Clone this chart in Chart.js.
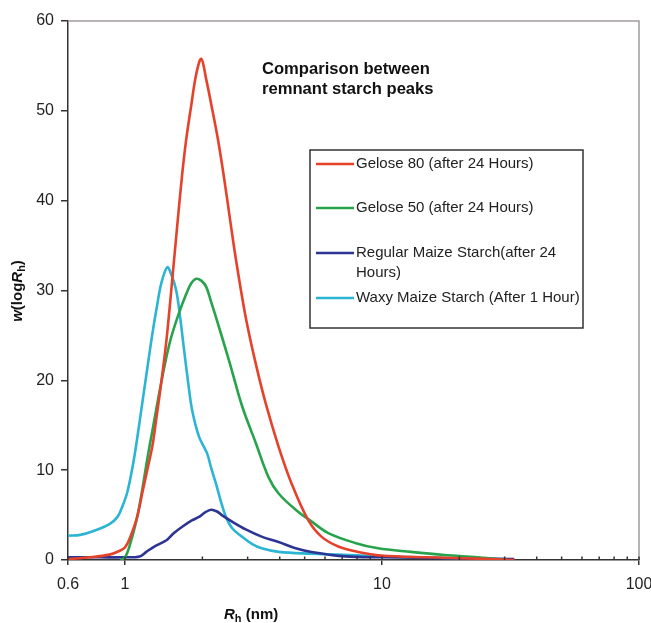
<!DOCTYPE html>
<html>
<head>
<meta charset="utf-8">
<script src="https://cdn.jsdelivr.net/npm/chart.js@4.4.1/dist/chart.umd.min.js"></script>
<style>
html,body{margin:0;padding:0;background:#fff;}
#wrap{width:651px;height:623px;}
</style>
</head>
<body>
<div id="wrap"><canvas id="c" width="651" height="623"></canvas></div>
<script>
// ---------- data ----------
const seriesLabels = [
  ['Gelose 80 (after 24 Hours)'],
  ['Gelose 50 (after 24 Hours)'],
  ['Regular Maize Starch(after 24', 'Hours)'],
  ['Waxy Maize Starch (After 1 Hour)']
];
const seriesColors = ['#e6412a', '#27a34c', '#2c3594', '#2cb4d4'];

const gelose80Rh = [0.6,0.73,0.87,0.95,1.0,1.04,1.11,1.17,1.22,1.28,1.32,1.38,1.45,1.53,1.6,1.67,1.73,1.81,1.89,1.98,2.07,2.18,2.3,2.43,2.56,2.7,2.95,3.23,3.53,3.96,4.45,5.17,5.81,6.76,8.08,9.91,15.1,23.5,32.7];
const gelose80W  = [0.1,0.3,0.6,1.0,1.4,2.3,4.6,7.6,10,12.8,15.5,19.5,24.5,31.5,37.5,43,46.8,50.6,54,55.8,53.5,50.3,46.8,42.5,38,33.5,27,21.8,17.4,12.6,8.5,4.4,2.6,1.5,0.9,0.5,0.3,0.15,0];

const gelose50Rh = [0.96,1.0,1.04,1.11,1.17,1.22,1.28,1.38,1.49,1.6,1.73,1.81,1.89,1.98,2.07,2.16,2.26,2.54,2.85,3.23,3.62,3.96,4.61,5.31,6.18,7.86,9.65,12.95,17.5,23.5,28.1,30.7];
const gelose50W  = [0,0.3,1.5,4.5,8.0,11.2,14.5,19.6,24.1,27,29.6,30.8,31.3,31.1,30.4,28.8,27,22.2,17.2,13,9.2,7.4,5.6,4.3,3.0,1.9,1.3,0.9,0.55,0.3,0.1,0];

const regularRh = [0.6,0.8,1.0,1.14,1.21,1.3,1.45,1.55,1.67,1.82,1.94,2.05,2.16,2.28,2.38,2.6,2.95,3.4,3.96,4.61,5.31,7.19,9.91,18,32.7];
const regularW  = [0.3,0.3,0.3,0.4,0.9,1.5,2.2,3.0,3.7,4.4,4.8,5.3,5.6,5.4,5.0,4.3,3.4,2.6,2.0,1.3,0.9,0.4,0.3,0.2,0.1];

const waxyRh = [0.6,0.67,0.75,0.87,0.935,0.978,1.022,1.069,1.108,1.169,1.222,1.278,1.336,1.384,1.46,1.513,1.582,1.639,1.699,1.76,1.824,1.942,2.085,2.161,2.259,2.362,2.47,2.617,2.848,3.114,3.403,3.96,5.313,8.296,13.78,19.68];
const waxyW  = [2.7,2.8,3.2,4.0,4.8,6.0,7.6,10.3,13,17.6,21.4,25.2,28.5,30.8,32.6,31.8,30,27,23.3,19.8,16.7,13.7,11.9,10.3,8.5,6.5,4.8,3.5,2.6,1.8,1.3,0.9,0.7,0.5,0.3,0.2];

const xTickValues = [0.6,1,2,3,4,5,6,7,8,9,10,20,30,40,50,60,70,80,90,100];
const xMajorTicks = [0.6,1,10,100];
const xTickLabels = ['0.6','1','10','100'];
const yTickValues = [0,10,20,30,40,50,60];

const titleLines = ['Comparison between', 'remnant starch peaks'];

// ---------- build ----------
function pts(xs, ys){ return xs.map((x,i)=>({x:x, y:ys[i]})); }
const seriesRh = [gelose80Rh, gelose50Rh, regularRh, waxyRh];
const seriesW  = [gelose80W, gelose50W, regularW, waxyW];

const FONT = "'Liberation Sans', Arial, Helvetica, sans-serif";

const datasets = seriesRh.map((xs,i)=>({
  label: seriesLabels[i].join(' '),
  data: pts(xs, seriesW[i]),
  borderColor: seriesColors[i],
  backgroundColor: seriesColors[i],
  borderWidth: 2.6,
  pointRadius: 0,
  showLine: true,
  fill: false,
  tension: 0.35
}));

function isMajor(v){ return xMajorTicks.some(m => Math.abs(m - v) < 1e-9); }

function drawRich(ctx, parts, x, y){
  let cx = x;
  parts.forEach(p=>{
    ctx.font = p.font;
    ctx.fillText(p.t, cx, y + (p.dy||0));
    cx += ctx.measureText(p.t).width;
  });
  return cx - x;
}
function richWidth(ctx, parts){
  let w = 0;
  parts.forEach(p=>{ ctx.font = p.font; w += ctx.measureText(p.t).width; });
  return w;
}

const decorPlugin = {
  id: 'decor',
  afterDraw(chart){
    const ctx = chart.ctx;
    const a = chart.chartArea;
    const xs = chart.scales.x;
    ctx.save();
    // frame top & right
    ctx.strokeStyle = '#a19c9c';
    ctx.lineWidth = 1.5;
    ctx.beginPath();
    ctx.moveTo(a.left, a.top);
    ctx.lineTo(a.right, a.top);
    ctx.lineTo(a.right, a.bottom);
    ctx.stroke();
    // inward x ticks
    ctx.strokeStyle = '#333';
    ctx.lineWidth = 1.5;
    xTickValues.forEach(v=>{
      const px = xs.getPixelForValue(v);
      ctx.beginPath();
      ctx.moveTo(px, a.bottom);
      ctx.lineTo(px, a.bottom - 3.5);
      ctx.stroke();
    });
    // chart title
    ctx.fillStyle = '#111';
    ctx.textBaseline = 'middle';
    ctx.textAlign = 'left';
    ctx.font = 'bold 16.6px ' + FONT;
    titleLines.forEach((t,i)=>{ ctx.fillText(t, 262, 69 + i*20); });

    // legend
    const box = {l:310, t:150, r:583, b:328};
    ctx.fillStyle = '#fff';
    ctx.fillRect(box.l, box.t, box.r-box.l, box.b-box.t);
    ctx.strokeStyle = '#333';
    ctx.lineWidth = 1.5;
    ctx.strokeRect(box.l, box.t, box.r-box.l, box.b-box.t);
    const rowY = [164, 208, 253, 298];
    ctx.font = '15px ' + FONT;
    chart.data.datasets.forEach((ds,i)=>{
      ctx.strokeStyle = ds.borderColor;
      ctx.lineWidth = 2.6;
      ctx.beginPath();
      ctx.moveTo(316, rowY[i]);
      ctx.lineTo(354, rowY[i]);
      ctx.stroke();
      ctx.fillStyle = '#222';
      seriesLabels[i].forEach((ln,k)=>{ ctx.fillText(ln, 356, rowY[i] + k*19.5); });
    });

    // x axis title
    ctx.fillStyle = '#111';
    ctx.textBaseline = 'alphabetic';
    const xParts = [
      {t:'R', font:'italic bold 15px ' + FONT},
      {t:'h', font:'bold 11px ' + FONT, dy:3},
      {t:' (nm)', font:'bold 15px ' + FONT}
    ];
    drawRich(ctx, xParts, 224, 619);

    // y axis title
    const yParts = [
      {t:'w', font:'italic bold 15px ' + FONT},
      {t:'(log', font:'bold 15px ' + FONT},
      {t:'R', font:'italic bold 15px ' + FONT},
      {t:'h', font:'bold 11px ' + FONT, dy:3},
      {t:')', font:'bold 15px ' + FONT}
    ];
    ctx.translate(22, 291);
    ctx.rotate(-Math.PI/2);
    const w = richWidth(ctx, yParts);
    drawRich(ctx, yParts, -w/2, 0);
    ctx.restore();
  }
};

new Chart(document.getElementById('c'), {
  type: 'scatter',
  data: { datasets: datasets },
  options: {
    responsive: false,
    animation: false,
    devicePixelRatio: 1,
    layout: { padding: { left: 0, right: 12, top: 21, bottom: 0 } },
    plugins: { legend: { display: false }, tooltip: { enabled: false }, title: { display: false } },
    scales: {
      x: {
        type: 'logarithmic',
        min: 0.6, max: 100,
        afterBuildTicks: s => { s.ticks = xTickValues.map(v => ({ value: v, major: isMajor(v) })); },
        afterFit: s => { s.height = 63; s.paddingRight = 0; },
        ticks: {
          autoSkip: false, maxRotation: 0, minRotation: 0,
          padding: 10,
          color: '#222',
          font: { size: 16, family: FONT },
          callback: v => { const k = xMajorTicks.findIndex(m => Math.abs(m - v) < 1e-9); return k >= 0 ? xTickLabels[k] : ''; }
        },
        grid: {
          drawOnChartArea: false, drawTicks: true, tickLength: 5, lineWidth: 1.5,
          color: c => (c.tick && isMajor(c.tick.value)) ? '#333' : 'rgba(0,0,0,0)'
        },
        border: { display: true, color: '#333', width: 1.5 }
      },
      y: {
        min: 0, max: 60,
        afterBuildTicks: s => { s.ticks = yTickValues.map(v => ({ value: v })); },
        afterFit: s => { s.width = 68; },
        ticks: { padding: 7, color: '#222', font: { size: 16, family: FONT } },
        grid: { drawOnChartArea: false, drawTicks: true, tickLength: 7, lineWidth: 1.5, color: '#333' },
        border: { display: true, color: '#333', width: 1.5 }
      }
    }
  },
  plugins: [decorPlugin]
});
</script>
</body>
</html>
